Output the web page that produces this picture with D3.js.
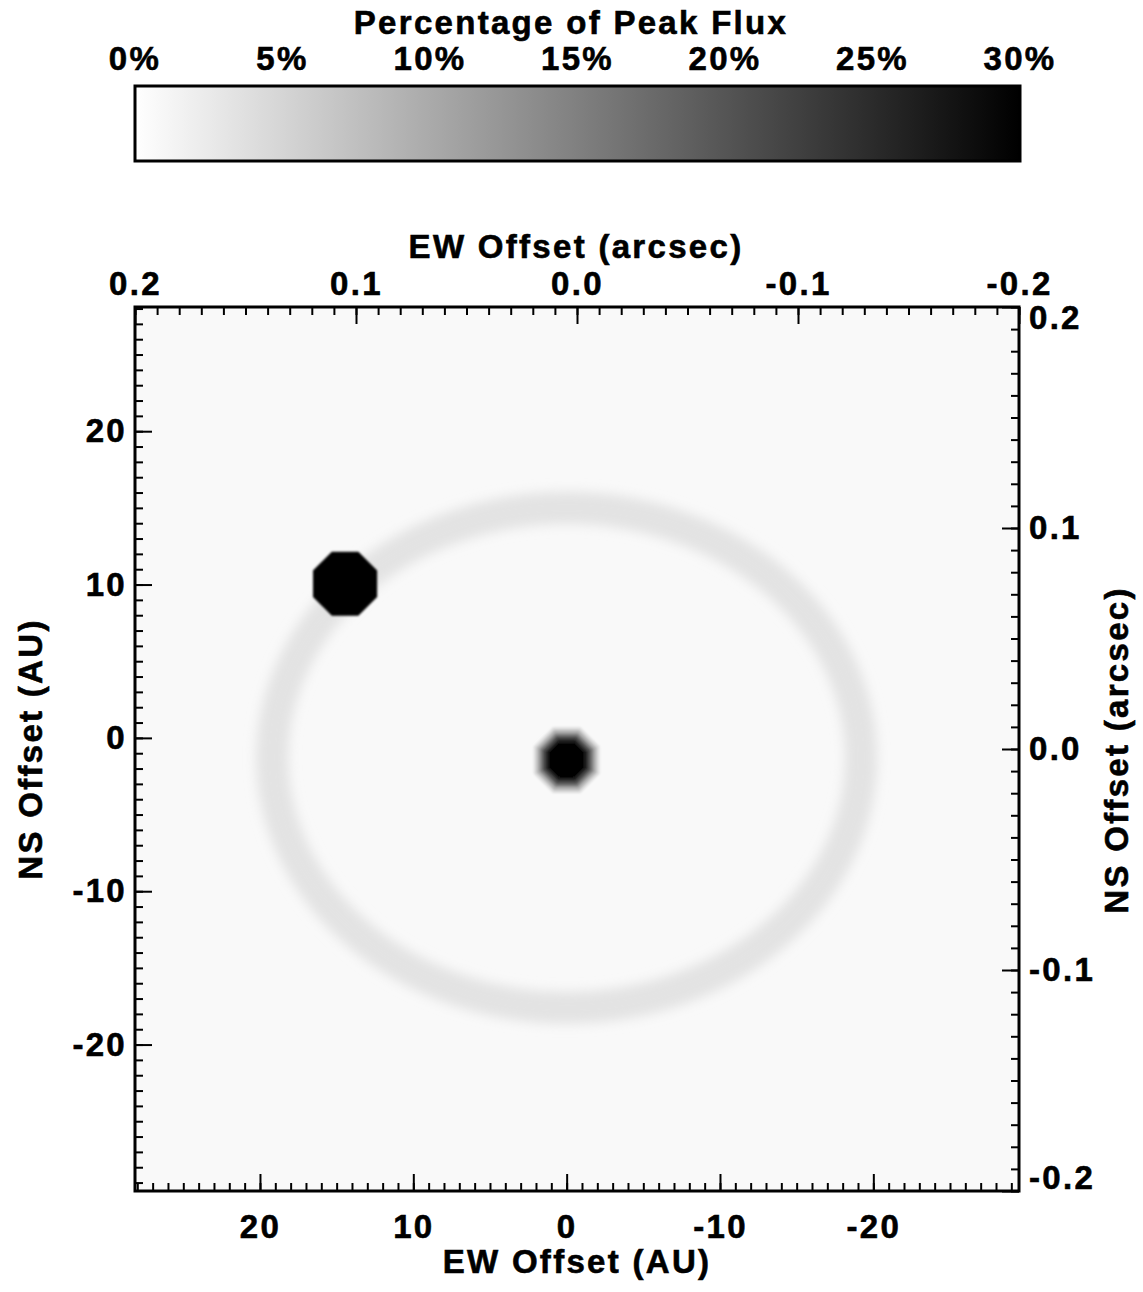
<!DOCTYPE html>
<html>
<head>
<meta charset="utf-8">
<script src="https://cdn.jsdelivr.net/npm/d3@7"></script>
<style>
  html, body { margin: 0; padding: 0; background: #fff; }
  svg text { font-family: "Liberation Sans", Arial, sans-serif; font-weight: bold; fill: #000;
             stroke: #000; stroke-width: 0.6px; }
</style>
</head>
<body>
<svg id="chart" width="1143" height="1292"></svg>
<script>
// flux colour bar
const fluxTicks = [0, 5, 10, 15, 20, 25, 30];

// axis extents (AU on bottom/left, arcsec on top/right)
const auRangeX = [28.15, -29.5];
const auRangeY = [28.1, -29.55];
const arcsecRange = [0.2, -0.2];
const auMajorTicks = [20, 10, 0, -10, -20];
const arcsecMajorTicks = [0.2, 0.1, 0.0, -0.1, -0.2];

// model image components (AU, % of peak flux)
const backgroundFlux = 0.7;
const ringCenter = [0.0, -1.3];
const ringSemiAxes = [19.2, 16.3];
const ringWidth = 1.4;
const ringFlux = 3.3;
const planetPos = [14.45, 10.05];
const planetSize = 2.09;          // octagon apothem, AU
const planetFlux = 60;
const starPos = [0.0, -1.45];
// star: smeared octagon, apothem (AU) -> flux (%)
const starRadii = [2.15, 1.96, 1.76, 1.57, 1.37, 1.17];
const starFlux = [4, 9, 15, 21, 26, 60];

const svg = d3.select('#chart');
const plotLeft = 135, plotTop = 307, size = 884;

const color = d3.scaleLinear().domain([0, 30]).range(['#ffffff', '#000000']).clamp(true);

const x = d3.scaleLinear().domain(auRangeX).range([plotLeft, plotLeft + size]);
const y = d3.scaleLinear().domain(auRangeY).range([plotTop, plotTop + size]);
const xs = d3.scaleLinear().domain(arcsecRange).range([plotLeft, plotLeft + size]);
const ys = d3.scaleLinear().domain(arcsecRange).range([plotTop, plotTop + size]);
const auLen = v => Math.abs(x(v) - x(0));

const defs = svg.append('defs');
const grad = defs.append('linearGradient').attr('id', 'cbar');
fluxTicks.forEach(t => {
  grad.append('stop').attr('offset', (t / 30 * 100) + '%').attr('stop-color', color(t));
});
defs.append('filter').attr('id', 'ringBlur').attr('x', '-20%').attr('y', '-20%').attr('width', '140%').attr('height', '140%')
  .append('feGaussianBlur').attr('stdDeviation', 6);
defs.append('filter').attr('id', 'softBlur').attr('x', '-50%').attr('y', '-50%').attr('width', '200%').attr('height', '200%')
  .append('feGaussianBlur').attr('stdDeviation', 1.2);
defs.append('clipPath').attr('id', 'plotClip')
  .append('rect').attr('x', plotLeft).attr('y', plotTop).attr('width', size).attr('height', size);

// ---- colour bar ----
const cb = d3.scaleLinear().domain([0, 30]).range([135, 1020]);
svg.append('text').attr('x', 571).attr('y', 34).attr('text-anchor', 'middle')
  .style('font-size', '33px').style('letter-spacing', '2.3px')
  .text('Percentage of Peak Flux');
svg.append('g').selectAll('text').data(fluxTicks).join('text')
  .attr('x', d => cb(d)).attr('y', 70).attr('text-anchor', 'middle')
  .style('font-size', '33px').style('letter-spacing', '2.3px')
  .text(d => d + '%');
svg.append('rect').attr('x', cb(0)).attr('y', 86).attr('width', cb(30) - cb(0)).attr('height', 75)
  .attr('fill', 'url(#cbar)').attr('stroke', '#000').attr('stroke-width', 3);

// ---- image ----
const img = svg.append('g').attr('clip-path', 'url(#plotClip)');
img.append('rect').attr('x', plotLeft).attr('y', plotTop).attr('width', size).attr('height', size)
  .attr('fill', color(backgroundFlux));
img.append('ellipse')
  .attr('cx', x(ringCenter[0])).attr('cy', y(ringCenter[1]))
  .attr('rx', auLen(ringSemiAxes[0])).attr('ry', auLen(ringSemiAxes[1]))
  .attr('fill', 'none').attr('stroke', color(ringFlux))
  .attr('stroke-width', auLen(ringWidth) * 1.5)
  .attr('filter', 'url(#ringBlur)');

const octagon = (cx, cy, a) => {
  const R = a / Math.cos(Math.PI / 8);
  return d3.range(8).map(k => {
    const ang = Math.PI / 8 + k * Math.PI / 4;
    return [cx + R * Math.cos(ang), cy + R * Math.sin(ang)];
  }).map(p => p.join(',')).join(' ');
};

// star: nested octagons, outer (faint) to inner (saturated)
img.append('g').attr('filter', 'url(#softBlur)')
  .selectAll('polygon').data(starRadii).join('polygon')
  .attr('points', d => octagon(x(starPos[0]), y(starPos[1]), auLen(d)))
  .attr('fill', (d, i) => color(starFlux[i]));

// planet
img.append('polygon')
  .attr('points', octagon(x(planetPos[0]), y(planetPos[1]), auLen(planetSize)))
  .attr('fill', color(planetFlux))
  .attr('filter', 'url(#softBlur)');

// ---- axes ----
function styleAxis(g) {
  g.select('.domain').remove();
  g.selectAll('line').attr('stroke', '#000').attr('stroke-width', 2);
  g.attr('font-family', null).attr('font-size', null);
  g.selectAll('text').attr('fill', null).style('font-size', '33px').style('letter-spacing', '2.3px');
}
const major = 17, minor = 8;
const auMinor = d3.range(-29, 29, 1);
const asMinor = d3.range(-20, 21, 1).map(v => v / 100);
const fmtAU = d => String(d);
const fmtAs = d => d.toFixed(1);

// bottom: AU
svg.append('g').attr('transform', `translate(0,${plotTop + size})`)
  .call(d3.axisBottom(x).tickValues(auMinor).tickSize(-minor).tickFormat(''))
  .call(styleAxis);
svg.append('g').attr('transform', `translate(0,${plotTop + size})`)
  .call(d3.axisBottom(x).tickValues(auMajorTicks).tickSize(-major).tickPadding(24).tickFormat(fmtAU))
  .call(styleAxis);
// left: AU
svg.append('g').attr('transform', `translate(${plotLeft},0)`)
  .call(d3.axisLeft(y).tickValues(auMinor).tickSize(-minor).tickFormat(''))
  .call(styleAxis);
svg.append('g').attr('transform', `translate(${plotLeft},0)`)
  .call(d3.axisLeft(y).tickValues(auMajorTicks).tickSize(-major).tickPadding(8).tickFormat(fmtAU))
  .call(styleAxis);
// top: arcsec
svg.append('g').attr('transform', `translate(0,${plotTop})`)
  .call(d3.axisTop(xs).tickValues(asMinor).tickSize(-minor).tickFormat(''))
  .call(styleAxis);
svg.append('g').attr('transform', `translate(0,${plotTop})`)
  .call(d3.axisTop(xs).tickValues(arcsecMajorTicks).tickSize(-major).tickPadding(12).tickFormat(fmtAs))
  .call(styleAxis);
// right: arcsec
svg.append('g').attr('transform', `translate(${plotLeft + size},0)`)
  .call(d3.axisRight(ys).tickValues(asMinor).tickSize(-minor).tickFormat(''))
  .call(styleAxis);
svg.append('g').attr('transform', `translate(${plotLeft + size},0)`)
  .call(d3.axisRight(ys).tickValues(arcsecMajorTicks).tickSize(-major).tickPadding(10).tickFormat(fmtAs))
  .call(styleAxis)
  .call(g => g.selectAll('text').attr('dy', d => d === 0.2 ? '0.66em' : d === -0.2 ? '-0.08em' : '0.32em'));

// frame
svg.append('rect').attr('x', plotLeft).attr('y', plotTop).attr('width', size).attr('height', size)
  .attr('fill', 'none').attr('stroke', '#000').attr('stroke-width', 3);

// axis titles
const title = (tx, ty, rot, txt) => svg.append('text')
  .attr('transform', `translate(${tx},${ty}) rotate(${rot})`)
  .attr('text-anchor', 'middle')
  .style('font-size', '33px').style('letter-spacing', '2.3px')
  .text(txt);
title(576, 258, 0, 'EW Offset (arcsec)');
title(577, 1273, 0, 'EW Offset (AU)');
title(42, 749, -90, 'NS Offset (AU)');
title(1128, 750, -90, 'NS Offset (arcsec)');
</script>
</body>
</html>
